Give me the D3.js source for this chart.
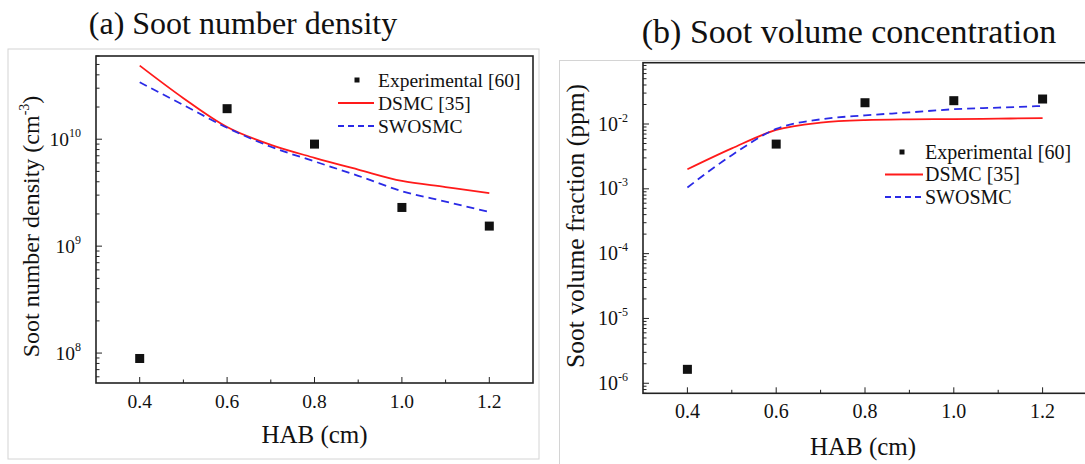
<!DOCTYPE html>
<html><head><meta charset="utf-8">
<script src="https://cdn.jsdelivr.net/npm/d3@7"></script>
<style>body{margin:0;background:#fff;} svg{display:block;} text{font-family:"Liberation Serif","Times New Roman",serif;fill:#111;}</style>
</head><body>
<svg id="c" width="1085" height="464" font-family="Liberation Serif, Times New Roman, serif"></svg>
<script>
// ---- data ----
const expHab = [0.4, 0.6, 0.8, 1.0, 1.2];
const modelHab = [0.4, 0.5, 0.6, 0.7, 0.8, 0.9, 1.0, 1.1, 1.2];
const xTicks = [0.4, 0.6, 0.8, 1.0, 1.2];
const xMinorTicks = [0.5, 0.7, 0.9, 1.1];
// panel (a) soot number density (cm^-3)
const expA = [8.9e7, 1.93e10, 9.0e9, 2.3e9, 1.54e9];
const dsmcA = [4.88e10, 2.42e10, 1.30e10, 8.85e9, 6.7e9, 5.2e9, 4.07e9, 3.57e9, 3.13e9];
const swoA = [3.41e10, 2.09e10, 1.28e10, 8.5e9, 6.2e9, 4.55e9, 3.27e9, 2.61e9, 2.09e9];
const yTicksA = [8, 9, 10];
// panel (b) soot volume fraction (ppm)
const expB = [1.64e-6, 4.9e-3, 0.0213, 0.0229, 0.0243];
const dsmcB = [2.0e-3, 4.2e-3, 8.1e-3, 0.0105, 0.0115, 0.0118, 0.0119, 0.0121, 0.0123];
const swoB = [1.05e-3, 3.3e-3, 8.4e-3, 0.0118, 0.0136, 0.0151, 0.0169, 0.0179, 0.019];
const yTicksB = [-6, -5, -4, -3, -2];
const legendLabels = ["Experimental [60]", "DSMC [35]", "SWOSMC"];

const svg = d3.select("#c");

// panel borders (light gray)
svg.append("rect").attr("x", 8).attr("y", 49).attr("width", 531).attr("height", 410)
  .attr("fill", "none").attr("stroke", "#d4d4d4").attr("stroke-width", 1);
svg.append("rect").attr("x", 559.5).attr("y", 60.5).attr("width", 540).attr("height", 420)
  .attr("fill", "none").attr("stroke", "#d4d4d4").attr("stroke-width", 1);

function panel(cfg) {
  const g = svg.append("g");
  const x = d3.scaleLinear().domain([0.3, 1.3]).range([cfg.x0, cfg.x1]);
  const y = d3.scaleLog().domain(cfg.yDomain).range([cfg.y1, cfg.y0]);

  // minor log ticks
  const minor = [];
  for (let e = Math.floor(Math.log10(cfg.yDomain[0])); e <= Math.ceil(Math.log10(cfg.yDomain[1])); e++) {
    for (let m = 1; m < 10; m++) {
      const v = m * Math.pow(10, e);
      if (v >= cfg.yDomain[0] && v <= cfg.yDomain[1]) minor.push({v, major: m === 1});
    }
  }
  g.selectAll(".ytk").data(minor).join("line")
    .attr("x1", cfg.x0).attr("x2", d => cfg.x0 + (d.major ? 6 : 3.5))
    .attr("y1", d => y(d.v)).attr("y2", d => y(d.v))
    .attr("stroke", "#222").attr("stroke-width", 1);

  // x ticks (inside)
  g.selectAll(".xtk").data(xTicks).join("line")
    .attr("x1", d => x(d)).attr("x2", d => x(d))
    .attr("y1", cfg.y1).attr("y2", cfg.y1 - 6).attr("stroke", "#222").attr("stroke-width", 1);
  g.selectAll(".xmtk").data(xMinorTicks).join("line")
    .attr("x1", d => x(d)).attr("x2", d => x(d))
    .attr("y1", cfg.y1).attr("y2", cfg.y1 - 3.5).attr("stroke", "#222").attr("stroke-width", 1);

  // frame
  g.append("rect").attr("x", cfg.x0).attr("y", cfg.y0)
    .attr("width", cfg.x1 - cfg.x0).attr("height", cfg.y1 - cfg.y0)
    .attr("fill", "none").attr("stroke", "#222").attr("stroke-width", 1.6);

  // x tick labels
  g.selectAll(".xl").data(xTicks).join("text")
    .attr("x", d => x(d)).attr("y", cfg.y1 + cfg.tickDy)
    .attr("text-anchor", "middle").attr("font-size", cfg.tickFs)
    .text(d => d.toFixed(1));

  // y tick labels
  cfg.yTicks.forEach(e => {
    const t = g.append("text").attr("x", cfg.x0 - 15).attr("y", y(Math.pow(10, e)) + 6.5)
      .attr("text-anchor", "end").attr("font-size", cfg.tickFs);
    t.append("tspan").text("10");
    t.append("tspan").attr("font-size", 12).attr("dy", -9).text(String(e));
  });

  // axis titles
  g.append("text").attr("x", (x(0.3) + x(1.3)) / 2 + cfg.xTitleShift).attr("y", cfg.y1 + cfg.xTitleDy)
    .attr("text-anchor", "middle").attr("font-size", 25).text("HAB (cm)");
  const yt = g.append("text")
    .attr("transform", `translate(${cfg.yTitleX},${(cfg.y0 + cfg.y1) / 2 + cfg.yTitleShift}) rotate(-90)`)
    .attr("text-anchor", "middle").attr("font-size", cfg.yTitleFs);
  cfg.yTitle(yt);

  // lines
  const line = d3.line().x((d, i) => x(modelHab[i])).y(d => y(d)).curve(d3.curveMonotoneX);
  g.append("path").datum(cfg.dsmc).attr("d", line).attr("fill", "none")
    .attr("stroke", "#ff1a1a").attr("stroke-width", 1.8);
  g.append("path").datum(cfg.swo).attr("d", line).attr("fill", "none")
    .attr("stroke", "#2a2ae6").attr("stroke-width", 1.8).attr("stroke-dasharray", "8,5");

  // experimental squares
  g.selectAll(".sq").data(cfg.exp).join("rect")
    .attr("x", (d, i) => x(expHab[i]) - 4.5).attr("y", d => y(d) - 4.5)
    .attr("width", 9).attr("height", 9).attr("fill", "#111");

  // title
  g.append("text").attr("x", cfg.titleX).attr("y", cfg.titleY).attr("text-anchor", "middle")
    .attr("font-size", cfg.titleFs).text(cfg.title);

  // legend
  const L = cfg.legend;
  g.append("rect").attr("x", L.x - 2.5).attr("y", L.y - 2.5).attr("width", 5).attr("height", 5).attr("fill", "#111");
  g.append("line").attr("x1", L.lx0).attr("x2", L.lx1).attr("y1", L.y + L.dy).attr("y2", L.y + L.dy)
    .attr("stroke", "#ff1a1a").attr("stroke-width", 1.8);
  g.append("line").attr("x1", L.lx0).attr("x2", L.lx1).attr("y1", L.y + 2 * L.dy).attr("y2", L.y + 2 * L.dy)
    .attr("stroke", "#2a2ae6").attr("stroke-width", 1.8).attr("stroke-dasharray", "6,4");
  legendLabels.forEach((s, i) => {
    g.append("text").attr("x", L.tx).attr("y", L.y + i * L.dy + 6.5).attr("font-size", L.fs).text(s);
  });
}

panel({
  x0: 96, x1: 533, y0: 56, y1: 383,
  yDomain: [5.25e7, 6.0e10], yTicks: yTicksA,
  exp: expA, dsmc: dsmcA, swo: swoA,
  title: "(a) Soot number density", titleX: 243, titleY: 34, titleFs: 32,
  tickFs: 19.5, tickDy: 25, xTitleDy: 60,
  xTitleShift: 0, yTitleX: 39, yTitleShift: 7, yTitleFs: 24,
  yTitle: t => { t.append("tspan").text("Soot number density (cm"); t.append("tspan").attr("font-size", 14).attr("dy", -10).text("-3"); t.append("tspan").attr("dy", 10).text(")"); },
  legend: {x: 357, y: 80, dy: 23, lx0: 338, lx1: 374, tx: 378, fs: 19.5}
});

panel({
  x0: 643, x1: 1087, y0: 62.7, y1: 393.3,
  yDomain: [7.0e-7, 0.0883], yTicks: yTicksB,
  exp: expB, dsmc: dsmcB, swo: swoB,
  title: "(b) Soot volume concentration", titleX: 849, titleY: 43, titleFs: 34,
  tickFs: 20, tickDy: 25, xTitleDy: 62,
  xTitleShift: -2, yTitleX: 584, yTitleShift: -2, yTitleFs: 25.5,
  yTitle: t => t.text("Soot volume fraction (ppm)"),
  legend: {x: 902, y: 152, dy: 22.5, lx0: 885, lx1: 923, tx: 925, fs: 20}
});
</script>
</body></html>
